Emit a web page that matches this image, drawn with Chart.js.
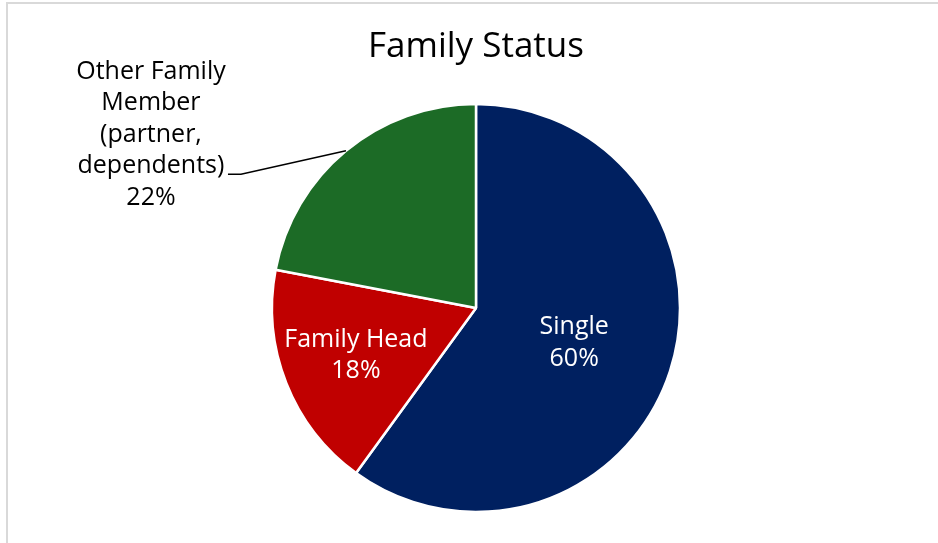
<!DOCTYPE html>
<html>
<head>
<meta charset="utf-8">
<script src="https://cdn.jsdelivr.net/npm/chart.js@4.4.1/dist/chart.umd.min.js"></script>
<style>
  html, body { margin: 0; padding: 0; background: #fff; }
  #wrap { width: 938px; height: 543px; }
</style>
</head>
<body>
<div id="wrap"><canvas id="familyChart" width="938" height="543"></canvas></div>
<script>
const categories = ['Single', 'Family Head', 'Other Family Member (partner, dependents)'];
const shares = [60, 18, 22];
const labelLines = [
  ['Single'],
  ['Family Head'],
  ['Other Family', 'Member', '(partner,', 'dependents)']
];
const sliceColors = ['#002060', '#C00000', '#1C6B26'];

const FONT = "'Open Sans', 'Noto Sans', sans-serif";

// light frame along the top and left edge
const frame = {
  id: 'frame',
  beforeDraw(chart) {
    const ctx = chart.ctx;
    ctx.save();
    ctx.fillStyle = '#fff';
    ctx.fillRect(0, 0, chart.width, chart.height);
    ctx.fillStyle = '#d9d9d9';
    ctx.fillRect(6, 2, chart.width - 6, 2);
    ctx.fillRect(6, 2, 2, chart.height - 2);
    ctx.restore();
  }
};

const sliceLabels = {
  id: 'sliceLabels',
  afterDatasetsDraw(chart, args, opts) {
    const ctx = chart.ctx;
    const arcs = chart.getDatasetMeta(0).data;
    ctx.save();
    ctx.font = opts.size + 'px ' + FONT;
    ctx.textAlign = 'center';
    arcs.forEach((arc, i) => {
      const p = arc.getProps(['x', 'y', 'startAngle', 'endAngle', 'outerRadius'], true);
      const mid = (p.startAngle + p.endAngle) / 2;
      const lines = labelLines[i].concat(shares[i] + '%');
      const place = opts.placement[i];
      if (place.inside) {
        const cx = p.x + Math.cos(mid) * p.outerRadius * place.inside;
        const cy = p.y + Math.sin(mid) * p.outerRadius * place.inside + (place.dy || 0);
        ctx.fillStyle = '#fff';
        ctx.textBaseline = 'middle';
        lines.forEach((t, k) => {
          ctx.fillText(t, cx, cy + (k - (lines.length - 1) / 2) * opts.lineHeight);
        });
      } else {
        const ex = p.x + Math.cos(mid) * p.outerRadius;
        const ey = p.y + Math.sin(mid) * p.outerRadius;
        const bx = ex + place.elbow[0];
        const by = ey + place.elbow[1];
        ctx.strokeStyle = '#000';
        ctx.lineWidth = 1.5;
        ctx.beginPath();
        ctx.moveTo(ex, ey);
        ctx.lineTo(bx, by);
        ctx.lineTo(bx - place.tail, by);
        ctx.stroke();
        ctx.fillStyle = '#000';
        ctx.textBaseline = 'alphabetic';
        const tx = bx - place.textDx;
        const anchor = lines.length - 2;
        lines.forEach((t, k) => {
          ctx.fillText(t, tx, by - 1 + (k - anchor) * opts.lineHeight);
        });
      }
    });
    ctx.restore();
  }
};

new Chart('familyChart', {
  type: 'pie',
  data: {
    labels: categories,
    datasets: [{
      data: shares,
      backgroundColor: sliceColors,
      borderColor: '#fff',
      borderWidth: 2.5
    }]
  },
  options: {
    responsive: false,
    devicePixelRatio: 1,
    animation: false,
    events: [],
    radius: 204,
    layout: { padding: { left: 272, right: 258, top: 0, bottom: 31 } },
    plugins: {
      legend: { display: false },
      tooltip: { enabled: false },
      title: {
        display: true,
        text: 'Family Status',
        color: '#000',
        font: { family: FONT, size: 35, weight: 'normal', lineHeight: 1 },
        padding: { top: 30, bottom: 39 }
      },
      sliceLabels: {
        size: 25,
        lineHeight: 31.5,
        placement: [
          { inside: 0.506, dy: 3 },
          { inside: 0.633 },
          { elbow: [-105, 23.5], tail: 13, textDx: 90 }
        ]
      }
    }
  },
  plugins: [frame, sliceLabels]
});
</script>
</body>
</html>
